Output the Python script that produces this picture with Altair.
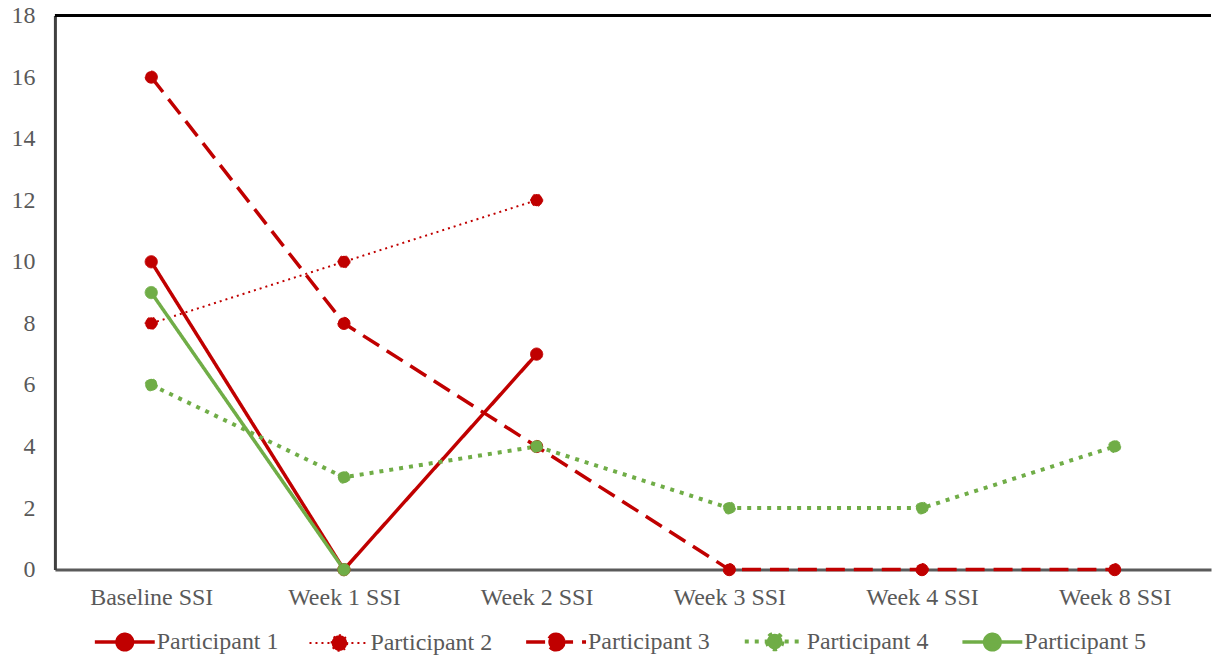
import altair as alt
import pandas as pd

categories = ["Baseline SSI", "Week 1 SSI", "Week 2 SSI", "Week 3 SSI", "Week 4 SSI", "Week 8 SSI"]
participants = ["Participant 1", "Participant 2", "Participant 3", "Participant 4", "Participant 5"]
p1 = [10, 0, 7, None, None, None]
p2 = [8, 10, 12, None, None, None]
p3 = [16, 8, 4, 0, 0, 0]
p4 = [6, 3, 4, 2, 2, 4]
p5 = [9, 0, None, None, None, None]
series = [p1, p2, p3, p4, p5]
y_max = 18

colors = ["#C00000", "#C00000", "#C00000", "#70AD47", "#70AD47"]
dashes = [[1, 0], [2, 4], [19, 9], [4, 6], [1, 0]]
widths = [3.5, 2, 3.5, 4, 3.5]

rows = []
for name, vals in zip(participants, series):
    for cat, v in zip(categories, vals):
        if v is not None:
            rows.append({"participant": name, "week": cat, "ssi": v})
df = pd.DataFrame(rows)

font = "Liberation Serif"
sym_path = "M-1,0H1M0.26,0A0.26,0.26,0,1,1,-0.26,0A0.26,0.26,0,1,1,0.26,0Z"

x = alt.X("week:N", sort=categories, scale=alt.Scale(type="point", padding=0.5),
          axis=alt.Axis(title=None, labelAngle=0, ticks=False, labelPadding=16,
                        labelFont=font, labelFontSize=24, labelColor="#595959",
                        domainColor="#5a5a5a", domainWidth=3, grid=False))
y = alt.Y("ssi:Q", scale=alt.Scale(domain=[0, y_max], nice=False),
          axis=alt.Axis(title=None, values=list(range(0, 19, 2)), ticks=False, labelPadding=20,
                        labelFont=font, labelFontSize=24, labelColor="#595959",
                        domainColor="#404040", domainWidth=3, grid=False))

legend = alt.Legend(title=None, orient="none", direction="horizontal",
                    legendX=38, legendY=595,
                    symbolType=sym_path, symbolSize=3600,
                    labelFont=font, labelFontSize=24, labelColor="#595959",
                    labelOffset=0, columnPadding=27)
cscale = alt.Scale(domain=participants, range=colors)
dscale = alt.Scale(domain=participants, range=dashes)
wscale = alt.Scale(type="ordinal", domain=participants, range=widths)

top = alt.Chart().mark_rule(color="black", strokeWidth=3).encode(y=alt.datum(y_max))

lines = alt.Chart(df).mark_line().encode(
    x=x, y=y,
    stroke=alt.Stroke("participant:N", sort=participants, scale=cscale, legend=legend),
    strokeDash=alt.StrokeDash("participant:N", sort=participants, scale=dscale, legend=legend),
    strokeWidth=alt.StrokeWidth("participant:N", sort=participants, scale=wscale, legend=legend),
    detail="participant:N",
)
points = alt.Chart(df).mark_point(shape="circle", size=150, opacity=1, strokeWidth=1,
                                  filled=False).encode(
    x=x, y=y,
    fill=alt.Fill("participant:N", sort=participants, scale=cscale, legend=legend),
    stroke=alt.Stroke("participant:N", sort=participants, scale=cscale, legend=legend),
    strokeDash=alt.StrokeDash("participant:N", sort=participants, scale=dscale, legend=legend),
)

chart = alt.layer(lines, points, top).properties(
    width=1158, height=555, background="white",
    padding={"left": 11, "top": 3, "right": 0, "bottom": 5}
).configure_view(stroke=None)

chart.save("out.html", embed_options={"renderer": "svg", "actions": False})
